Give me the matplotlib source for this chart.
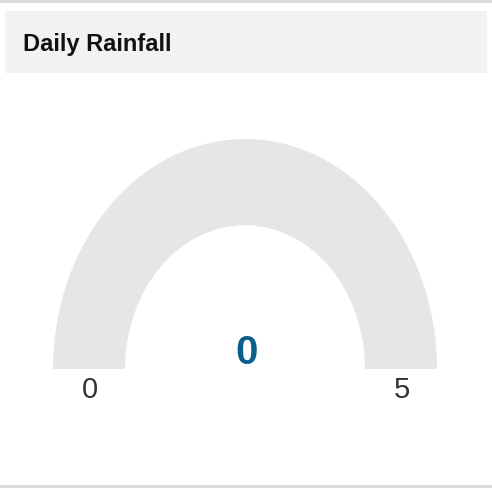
import matplotlib
matplotlib.use("Agg")
import matplotlib.pyplot as plt
from matplotlib.patches import Wedge, Rectangle

plt.rcParams["font.family"] = ["Liberation Sans", "DejaVu Sans"]

title = "Daily Rainfall"
gauge_min = 0
gauge_max = 5
value = 0

W, H = 492, 488
fig = plt.figure(figsize=(W / 100, H / 100), dpi=100)

# background axes in pixel coords
bg = fig.add_axes([0, 0, 1, 1])
bg.set_xlim(0, W)
bg.set_ylim(H, 0)
bg.axis("off")
bg.add_patch(Rectangle((0, 0), W, 3, color="#d9d9d9", lw=0))
bg.add_patch(Rectangle((0, 485), W, 3, color="#d9d9d9", lw=0))
bg.add_patch(Rectangle((5, 11), 482, 62, color="#f2f2f2", lw=0))
bg.text(23, 51, title, fontsize=17, fontweight="bold", color="#111111",
        ha="left", va="baseline")

# gauge axes (stretched vertically like the original)
gx0, gx1, gtop, gbase = 53, 437, 139, 369
ax = fig.add_axes([gx0 / W, (H - gbase) / H, (gx1 - gx0) / W, (gbase - gtop) / H])
ax.set_xlim(-1, 1)
ax.set_ylim(0, 1)
ax.axis("off")
inner = 120 / 192
ax.add_patch(Wedge((0, 0), 1, 0, 180, width=1 - inner, color="#e6e6e6", lw=0))
frac = (value - gauge_min) / (gauge_max - gauge_min)
if frac > 0:
    ax.add_patch(Wedge((0, 0), 1, 180 - 180 * frac, 180, width=1 - inner,
                       color="#00609a", lw=0))

bg.text(90, 398, str(gauge_min), fontsize=21, color="#333333", ha="center", va="baseline")
bg.text(402, 398, str(gauge_max), fontsize=21, color="#333333", ha="center", va="baseline")
bg.text(247, 364, str(value), fontsize=29, fontweight="bold", color="#0b5f8e",
        ha="center", va="baseline")

fig.savefig("out.png", dpi=100)
